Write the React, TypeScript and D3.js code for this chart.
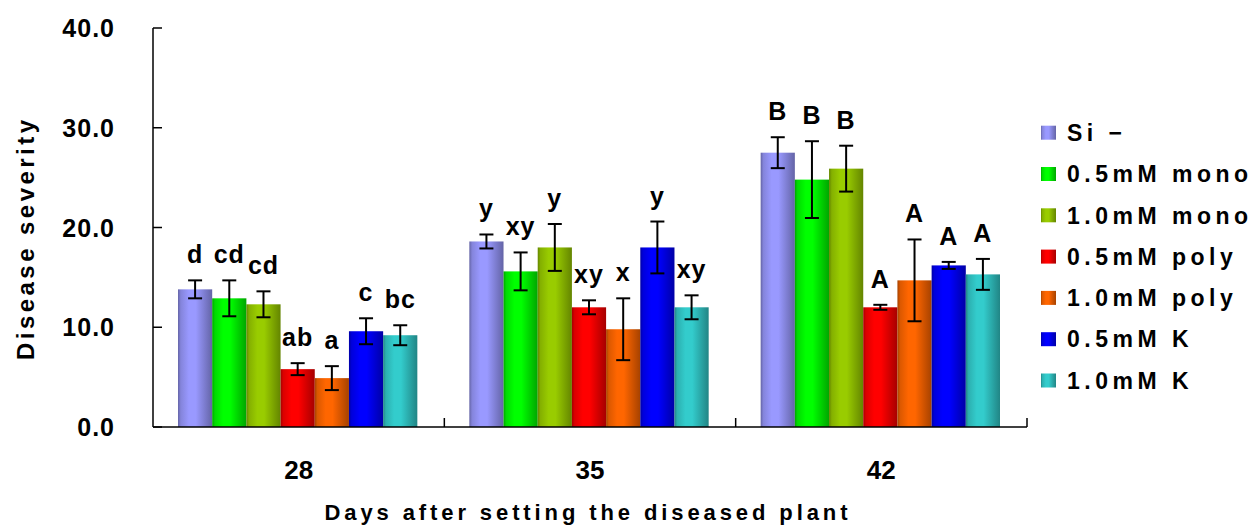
import * as d3 from "d3";

const days = ["28", "35", "42"];
const treatments = [
  "Si −",
  "0.5mM mono",
  "1.0mM mono",
  "0.5mM poly",
  "1.0mM poly",
  "0.5mM K",
  "1.0mM K",
];
const colors = ["#9999ff", "#00ff00", "#99cc00", "#ff0000", "#ff6600", "#0000ff", "#33cccc"];

// one row per treatment, values for day 28 / 35 / 42
const means = [
  [13.8, 18.6, 27.5],
  [12.9, 15.6, 24.8],
  [12.3, 18.0, 25.9],
  [5.8, 12.0, 12.0],
  [4.9, 9.8, 14.7],
  [9.6, 18.0, 16.2],
  [9.2, 12.0, 15.3],
];
const errors = [
  [0.9, 0.7, 1.55],
  [1.8, 1.9, 3.85],
  [1.3, 2.35, 2.3],
  [0.6, 0.7, 0.25],
  [1.2, 3.1, 4.1],
  [1.3, 2.6, 0.35],
  [1.0, 1.2, 1.55],
];
const letters = [
  ["d", "y", "B"],
  ["cd", "xy", "B"],
  ["cd", "y", "B"],
  ["ab", "xy", "A"],
  ["a", "x", "A"],
  ["c", "y", "A"],
  ["bc", "xy", "A"],
];
const yTicks = [0, 10, 20, 30, 40];

const W = 1252;
const H = 529;
const left = 153;
const right = 1027;
const top = 28;
const bottom = 427;
const font = "'Liberation Sans', Arial, sans-serif";

const App = () => {
  const x0 = d3.scaleBand().domain(days).range([left, right]).padding(0);
  const x1 = d3
    .scaleBand()
    .domain(treatments)
    .range([25, x0.bandwidth() - 27])
    .padding(0);
  const y = d3.scaleLinear().domain([0, 40]).range([bottom, top]);
  const capW = 14;

  return (
    <svg
      width={W}
      height={H}
      style={{ position: "absolute", left: 0, top: 0, background: "#fff" }}
    >
      <defs>
        {colors.map((c, i) => {
          const dark = d3.color(c)!.darker(1.2).formatHex();
          const mid = d3.interpolateRgb(dark, c)(0.6);
          return (
            <linearGradient key={i} id={`g${i}`} x1="0" x2="1" y1="0" y2="0">
              <stop offset="0%" stopColor={dark} />
              <stop offset="8%" stopColor={mid} />
              <stop offset="32%" stopColor={c} />
              <stop offset="52%" stopColor={c} />
              <stop offset="100%" stopColor={dark} />
            </linearGradient>
          );
        })}
      </defs>

      {/* bars */}
      {days.map((d, di) => (
        <g key={d} transform={`translate(${x0(d)},0)`}>
          {treatments.map((t, ti) => {
            const v = means[ti][di];
            const e = errors[ti][di];
            const cx = (x1(t) as number) + x1.bandwidth() / 2;
            return (
              <g key={t}>
                <rect
                  x={x1(t)}
                  y={y(v)}
                  width={x1.bandwidth()}
                  height={bottom - y(v)}
                  fill={`url(#g${ti})`}
                />
                <g stroke="#000" strokeWidth={2}>
                  <line x1={cx} x2={cx} y1={y(v + e)} y2={y(v - e)} />
                  <line x1={cx - capW / 2} x2={cx + capW / 2} y1={y(v + e)} y2={y(v + e)} />
                  <line x1={cx - capW / 2} x2={cx + capW / 2} y1={y(v - e)} y2={y(v - e)} />
                </g>
                <text
                  x={cx}
                  y={y(v + e) - 17}
                  textAnchor="middle"
                  fontFamily={font}
                  fontWeight="bold"
                  fontSize={25}
                  letterSpacing={1}
                >
                  {letters[ti][di]}
                </text>
              </g>
            );
          })}
        </g>
      ))}

      {/* axes */}
      <g stroke="#000" strokeWidth={1.5}>
        <line x1={left} x2={left} y1={top} y2={bottom} />
        <line x1={left} x2={right} y1={bottom} y2={bottom} />
        {yTicks.map((t) => (
          <line key={t} x1={left} x2={left + 9} y1={y(t)} y2={y(t)} />
        ))}
        {days.map((d) => (
          <line
            key={d}
            x1={(x0(d) as number) + x0.bandwidth()}
            x2={(x0(d) as number) + x0.bandwidth()}
            y1={bottom}
            y2={bottom - 9}
          />
        ))}
      </g>
      {yTicks.map((t) => (
        <text
          key={t}
          x={115}
          y={y(t)}
          dy="0.36em"
          textAnchor="end"
          fontFamily={font}
          fontWeight="bold"
          fontSize={25}
          letterSpacing={1}
        >
          {d3.format(".1f")(t)}
        </text>
      ))}
      {days.map((d) => (
        <text
          key={d}
          x={(x0(d) as number) + x0.bandwidth() / 2}
          y={479}
          textAnchor="middle"
          fontFamily={font}
          fontWeight="bold"
          fontSize={26}
        >
          {d}
        </text>
      ))}
      <text
        x={586}
        y={520}
        textAnchor="middle"
        fontFamily={font}
        fontWeight="bold"
        fontSize={22}
        textLength={523}
        lengthAdjust="spacing"
      >
        Days after setting the diseased plant
      </text>
      <text
        transform="translate(34,240) rotate(-90)"
        textAnchor="middle"
        fontFamily={font}
        fontWeight="bold"
        fontSize={24}
        textLength={240}
        lengthAdjust="spacing"
      >
        Disease severity
      </text>

      {/* legend */}
      {treatments.map((t, i) => {
        const cy = 132.7 + i * 41.3;
        return (
          <g key={t}>
            <rect x={1041} y={cy - 7} width={15} height={14} fill={`url(#g${i})`} />
            <text
              x={1067}
              y={cy}
              dy="0.36em"
              fontFamily={font}
              fontWeight="bold"
              fontSize={23}
              letterSpacing={4.5}
            >
              {t}
            </text>
          </g>
        );
      })}
    </svg>
  );
};

export default App;
